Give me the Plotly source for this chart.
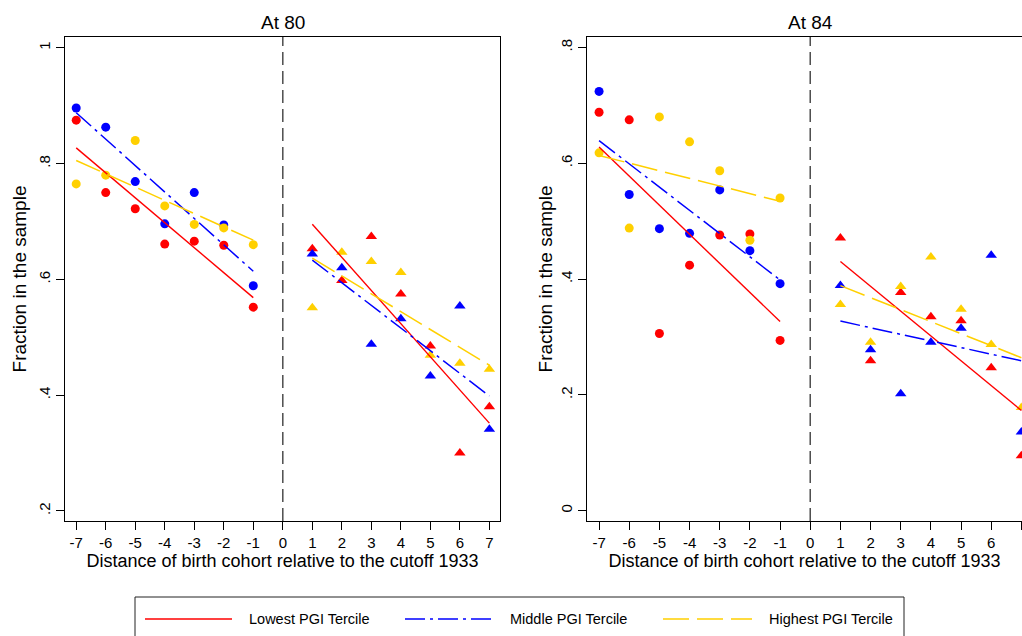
import numpy as np
import plotly.graph_objects as go

# Cohort distance from the 1933 cutoff
pre_x = [-7, -6, -5, -4, -3, -2, -1]
post_x = [1, 2, 3, 4, 5, 6, 7]
x_ticks = [-7, -6, -5, -4, -3, -2, -1, 0, 1, 2, 3, 4, 5, 6, 7]
x_tick_text = ["-7", "-6", "-5", "-4", "-3", "-2", "-1", "0",
               "1", "2", "3", "4", "5", "6", "7"]

# Fraction in the sample, at age 80
a80_low_pre = [0.875, 0.750, 0.722, 0.661, 0.666, 0.659, 0.552]
a80_mid_pre = [0.896, 0.863, 0.769, 0.696, 0.750, 0.694, 0.589]
a80_high_pre = [0.765, 0.780, 0.840, 0.727, 0.695, 0.689, 0.660]
a80_low_post = [0.653, 0.598, 0.674, 0.575, 0.485, 0.300, 0.380]
a80_mid_post = [0.644, 0.620, 0.488, 0.532, 0.433, 0.554, 0.341]
a80_high_post = [0.551, 0.647, 0.631, 0.612, 0.469, 0.455, 0.445]

# Fraction in the sample, at age 84
a84_low_pre = [0.688, 0.675, 0.306, 0.424, 0.476, 0.478, 0.294]
a84_mid_pre = [0.724, 0.546, 0.487, 0.479, 0.554, 0.449, 0.392]
a84_high_pre = [0.618, 0.488, 0.680, 0.637, 0.587, 0.467, 0.540]
a84_low_post = [0.471, 0.259, 0.377, 0.335, 0.328, 0.247, 0.095]
a84_mid_post = [0.389, 0.278, 0.202, 0.291, 0.315, 0.441, 0.136]
a84_high_post = [0.356, 0.291, 0.387, 0.438, 0.348, 0.287, 0.178]

panel_titles = ["At 80", "At 84"]
y_ticks_80 = [0.2, 0.4, 0.6, 0.8, 1.0]
y_text_80 = [".2", ".4", ".6", ".8", "1"]
y_ticks_84 = [0.0, 0.2, 0.4, 0.6, 0.8]
y_text_84 = ["0", ".2", ".4", ".6", ".8"]
legend_names = ["Lowest PGI Tercile", "Middle PGI Tercile", "Highest PGI Tercile"]

RED = "#FF0000"
BLUE = "#0000FF"
GOLD = "rgb(255,208,0)"
FONT = "Liberation Sans, Arial, sans-serif"

styles = [
    dict(color=RED, width=1.4, dash="solid"),
    dict(color=BLUE, width=1.5, dash="20px,5px,3px,5px"),
    dict(color=GOLD, width=1.5, dash="26px,8px"),
]
colors = [RED, BLUE, GOLD]

W, H = 1022, 636
ML, MR, MT, MB = 65, 0, 37, 115


def px_x(p):
    return (p - ML) / (W - ML - MR)


def px_y(p):
    return (H - MB - p) / (H - MT - MB)


fig = go.Figure()

panels = [
    ("x", "y", [a80_low_pre, a80_mid_pre, a80_high_pre],
     [a80_low_post, a80_mid_post, a80_high_post]),
    ("x2", "y2", [a84_low_pre, a84_mid_pre, a84_high_pre],
     [a84_low_post, a84_mid_post, a84_high_post]),
]

for xa, ya, pre_sets, post_sets in panels:
    # scatter points: circles before the cutoff, triangles after
    for k in range(3):
        fig.add_trace(go.Scatter(
            x=pre_x, y=pre_sets[k], mode="markers", xaxis=xa, yaxis=ya,
            marker=dict(symbol="circle", size=9, color=colors[k]),
            showlegend=False, hoverinfo="x+y"))
        fig.add_trace(go.Scatter(
            x=post_x, y=post_sets[k], mode="markers", xaxis=xa, yaxis=ya,
            marker=dict(symbol="triangle-up", size=10, color=colors[k]),
            showlegend=False, hoverinfo="x+y"))
    # linear fits on each side of the cutoff
    for k in range(3):
        for xs, ys in ((pre_x, pre_sets[k]), (post_x, post_sets[k])):
            b, a = np.polyfit(xs, ys, 1)
            xe = [xs[0], xs[-1]]
            fig.add_trace(go.Scatter(
                x=xe, y=[a + b * v for v in xe], mode="lines",
                xaxis=xa, yaxis=ya, line=styles[k],
                showlegend=False, hoverinfo="skip"))

axis_common = dict(
    showgrid=False, zeroline=False, showline=True, linecolor="black",
    linewidth=1.3, ticks="outside", ticklen=8, tickwidth=1.2,
    tickcolor="black", tickfont=dict(family=FONT, size=15, color="black"),
)

x_title = dict(text="Distance of birth cohort relative to the cutoff 1933",
               font=dict(family=FONT, size=18, color="black"), standoff=2)


def y_title(standoff):
    return dict(text="Fraction in the sample",
                font=dict(family=FONT, size=19, color="black"),
                standoff=standoff)


fig.update_layout(
    width=W, height=H,
    margin=dict(l=ML, r=MR, t=MT, b=MB),
    paper_bgcolor="white", plot_bgcolor="white",
    font=dict(family=FONT, color="black"),
    xaxis=dict(domain=[0, px_x(500)], range=[-7.38, 7.36], mirror=True,
               tickvals=x_ticks, ticktext=x_tick_text, title=x_title,
               anchor="y", **axis_common),
    yaxis=dict(domain=[0, 1], range=[0.1827, 1.0187], mirror=True,
               tickvals=y_ticks_80, ticktext=y_text_80, tickangle=-90,
               title=y_title(4), anchor="x", **axis_common),
    xaxis2=dict(domain=[px_x(587), 1], range=[-7.4, 7.02], mirror=True,
                tickvals=x_ticks, ticktext=x_tick_text, title=x_title,
                anchor="y2", **axis_common),
    yaxis2=dict(domain=[0, 1], range=[-0.0178, 0.818], mirror=False,
                tickvals=y_ticks_84, ticktext=y_text_84, tickangle=-90,
                title=y_title(0), anchor="x2", **axis_common),
)

shapes = []
# cutoff marker at zero in each panel
for xa, ya in (("x", "y"), ("x2", "y2")):
    shapes.append(dict(type="line", xref=xa, yref=ya + " domain",
                       x0=0, x1=0, y0=0, y1=1,
                       line=dict(color="#4d4d4d", width=1.5, dash="13px,6px")))

# legend box
shapes.append(dict(type="rect", xref="paper", yref="paper",
                   x0=px_x(135), x1=px_x(904), y0=px_y(642), y1=px_y(597),
                   line=dict(color="#222", width=1), fillcolor="white",
                   layer="below"))
legend_line_x = [(145, 232), (405, 493), (663, 752)]
legend_text_x = [247, 508, 767]
annotations = []
for k in range(3):
    x0, x1 = legend_line_x[k]
    shapes.append(dict(type="line", xref="paper", yref="paper",
                       x0=px_x(x0), x1=px_x(x1), y0=px_y(619), y1=px_y(619),
                       line=styles[k]))
    annotations.append(dict(
        text=legend_names[k], xref="paper", yref="paper",
        x=px_x(legend_text_x[k]), y=px_y(619), xanchor="left", yanchor="middle",
        showarrow=False, font=dict(family=FONT, size=14.5, color="black")))

# panel titles
for xa, t in (("x", panel_titles[0]), ("x2", panel_titles[1])):
    annotations.append(dict(
        text=t, xref=xa, yref="paper", x=0, y=px_y(22),
        xanchor="center", yanchor="middle", showarrow=False,
        font=dict(family=FONT, size=19, color="black")))

fig.update_layout(shapes=shapes, annotations=annotations)

fig.write_html("out.html")
